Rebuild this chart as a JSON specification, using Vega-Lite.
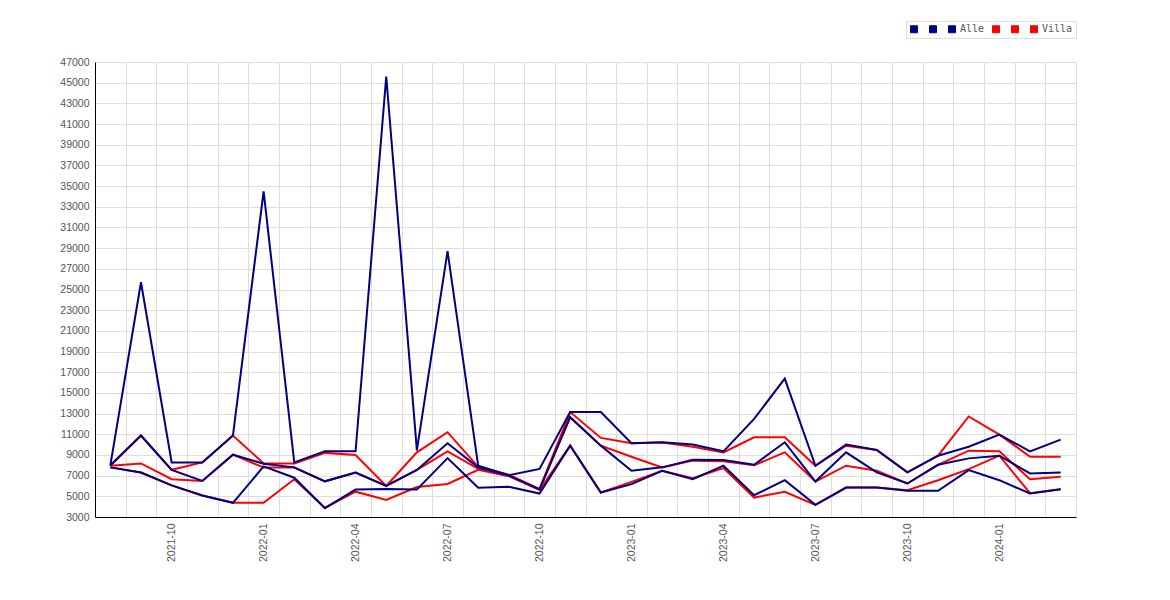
{
  "$schema": "https://vega.github.io/schema/vega-lite/v6.json",
  "width": 981,
  "height": 455,
  "autosize": {"type": "none"},
  "padding": {"left": 95, "top": 62, "right": 94, "bottom": 83},
  "background": "#ffffff",
  "config": {"view": {"stroke": null}},
  "data": {
    "values": [
      {"m": "2021-08", "s": "Alle", "v": 8000}, {"m": "2021-09", "s": "Alle", "v": 25700}, {"m": "2021-10", "s": "Alle", "v": 8280}, {"m": "2021-11", "s": "Alle", "v": 8280},
      {"m": "2021-12", "s": "Alle", "v": 10880}, {"m": "2022-01", "s": "Alle", "v": 34500}, {"m": "2022-02", "s": "Alle", "v": 8280}, {"m": "2022-03", "s": "Alle", "v": 9350},
      {"m": "2022-04", "s": "Alle", "v": 9350}, {"m": "2022-05", "s": "Alle", "v": 45600}, {"m": "2022-06", "s": "Alle", "v": 9450}, {"m": "2022-07", "s": "Alle", "v": 28700},
      {"m": "2022-08", "s": "Alle", "v": 7950}, {"m": "2022-09", "s": "Alle", "v": 7050}, {"m": "2022-10", "s": "Alle", "v": 7650}, {"m": "2022-11", "s": "Alle", "v": 13150},
      {"m": "2022-12", "s": "Alle", "v": 13150}, {"m": "2023-01", "s": "Alle", "v": 10130}, {"m": "2023-02", "s": "Alle", "v": 10230}, {"m": "2023-03", "s": "Alle", "v": 10000},
      {"m": "2023-04", "s": "Alle", "v": 9350}, {"m": "2023-05", "s": "Alle", "v": 12490}, {"m": "2023-06", "s": "Alle", "v": 16380}, {"m": "2023-07", "s": "Alle", "v": 7960},
      {"m": "2023-08", "s": "Alle", "v": 10000}, {"m": "2023-09", "s": "Alle", "v": 9480}, {"m": "2023-10", "s": "Alle", "v": 7310}, {"m": "2023-11", "s": "Alle", "v": 8930},
      {"m": "2023-12", "s": "Alle", "v": 9800}, {"m": "2024-01", "s": "Alle", "v": 10970}, {"m": "2024-02", "s": "Alle", "v": 9350}, {"m": "2024-03", "s": "Alle", "v": 10480},

      {"m": "2021-08", "s": "a1", "v": 8000}, {"m": "2021-09", "s": "a1", "v": 10880}, {"m": "2021-10", "s": "a1", "v": 7560}, {"m": "2021-11", "s": "a1", "v": 6485},
      {"m": "2021-12", "s": "a1", "v": 9025}, {"m": "2022-01", "s": "a1", "v": 8150}, {"m": "2022-02", "s": "a1", "v": 7800}, {"m": "2022-03", "s": "a1", "v": 6450},
      {"m": "2022-04", "s": "a1", "v": 7300}, {"m": "2022-05", "s": "a1", "v": 6000}, {"m": "2022-06", "s": "a1", "v": 7550}, {"m": "2022-07", "s": "a1", "v": 10130},
      {"m": "2022-08", "s": "a1", "v": 7790}, {"m": "2022-09", "s": "a1", "v": 7000}, {"m": "2022-10", "s": "a1", "v": 5700}, {"m": "2022-11", "s": "a1", "v": 12650},
      {"m": "2022-12", "s": "a1", "v": 9900}, {"m": "2023-01", "s": "a1", "v": 7470}, {"m": "2023-02", "s": "a1", "v": 7800}, {"m": "2023-03", "s": "a1", "v": 8540},
      {"m": "2023-04", "s": "a1", "v": 8510}, {"m": "2023-05", "s": "a1", "v": 8050}, {"m": "2023-06", "s": "a1", "v": 10225}, {"m": "2023-07", "s": "a1", "v": 6430},
      {"m": "2023-08", "s": "a1", "v": 9250}, {"m": "2023-09", "s": "a1", "v": 7310}, {"m": "2023-10", "s": "a1", "v": 6240}, {"m": "2023-11", "s": "a1", "v": 8050},
      {"m": "2023-12", "s": "a1", "v": 8670}, {"m": "2024-01", "s": "a1", "v": 8930}, {"m": "2024-02", "s": "a1", "v": 7210}, {"m": "2024-03", "s": "a1", "v": 7310},

      {"m": "2021-08", "s": "a2", "v": 7800}, {"m": "2021-09", "s": "a2", "v": 7300}, {"m": "2021-10", "s": "a2", "v": 6060}, {"m": "2021-11", "s": "a2", "v": 5085},
      {"m": "2021-12", "s": "a2", "v": 4370}, {"m": "2022-01", "s": "a2", "v": 7890}, {"m": "2022-02", "s": "a2", "v": 6800}, {"m": "2022-03", "s": "a2", "v": 3850},
      {"m": "2022-04", "s": "a2", "v": 5650}, {"m": "2022-05", "s": "a2", "v": 5700}, {"m": "2022-06", "s": "a2", "v": 5650}, {"m": "2022-07", "s": "a2", "v": 8700},
      {"m": "2022-08", "s": "a2", "v": 5830}, {"m": "2022-09", "s": "a2", "v": 5920}, {"m": "2022-10", "s": "a2", "v": 5270}, {"m": "2022-11", "s": "a2", "v": 9900},
      {"m": "2022-12", "s": "a2", "v": 5370}, {"m": "2023-01", "s": "a2", "v": 6180}, {"m": "2023-02", "s": "a2", "v": 7470}, {"m": "2023-03", "s": "a2", "v": 6660},
      {"m": "2023-04", "s": "a2", "v": 7960}, {"m": "2023-05", "s": "a2", "v": 5110}, {"m": "2023-06", "s": "a2", "v": 6560}, {"m": "2023-07", "s": "a2", "v": 4170},
      {"m": "2023-08", "s": "a2", "v": 5850}, {"m": "2023-09", "s": "a2", "v": 5850}, {"m": "2023-10", "s": "a2", "v": 5530}, {"m": "2023-11", "s": "a2", "v": 5530},
      {"m": "2023-12", "s": "a2", "v": 7540}, {"m": "2024-01", "s": "a2", "v": 6560}, {"m": "2024-02", "s": "a2", "v": 5270}, {"m": "2024-03", "s": "a2", "v": 5690},

      {"m": "2021-08", "s": "Villa", "v": 7950}, {"m": "2021-09", "s": "Villa", "v": 10880}, {"m": "2021-10", "s": "Villa", "v": 7560}, {"m": "2021-11", "s": "Villa", "v": 8280},
      {"m": "2021-12", "s": "Villa", "v": 10880}, {"m": "2022-01", "s": "Villa", "v": 8180}, {"m": "2022-02", "s": "Villa", "v": 8180}, {"m": "2022-03", "s": "Villa", "v": 9200},
      {"m": "2022-04", "s": "Villa", "v": 9000}, {"m": "2022-05", "s": "Villa", "v": 6000}, {"m": "2022-06", "s": "Villa", "v": 9250}, {"m": "2022-07", "s": "Villa", "v": 11200},
      {"m": "2022-08", "s": "Villa", "v": 7850}, {"m": "2022-09", "s": "Villa", "v": 7100}, {"m": "2022-10", "s": "Villa", "v": 5700}, {"m": "2022-11", "s": "Villa", "v": 13150},
      {"m": "2022-12", "s": "Villa", "v": 10650}, {"m": "2023-01", "s": "Villa", "v": 10130}, {"m": "2023-02", "s": "Villa", "v": 10200}, {"m": "2023-03", "s": "Villa", "v": 9800},
      {"m": "2023-04", "s": "Villa", "v": 9250}, {"m": "2023-05", "s": "Villa", "v": 10710}, {"m": "2023-06", "s": "Villa", "v": 10710}, {"m": "2023-07", "s": "Villa", "v": 7960},
      {"m": "2023-08", "s": "Villa", "v": 9900}, {"m": "2023-09", "s": "Villa", "v": 9480}, {"m": "2023-10", "s": "Villa", "v": 7310}, {"m": "2023-11", "s": "Villa", "v": 8930},
      {"m": "2023-12", "s": "Villa", "v": 12720}, {"m": "2024-01", "s": "Villa", "v": 10970}, {"m": "2024-02", "s": "Villa", "v": 8830}, {"m": "2024-03", "s": "Villa", "v": 8830},

      {"m": "2021-08", "s": "v1", "v": 7950}, {"m": "2021-09", "s": "v1", "v": 8180}, {"m": "2021-10", "s": "v1", "v": 6650}, {"m": "2021-11", "s": "v1", "v": 6485},
      {"m": "2021-12", "s": "v1", "v": 9025}, {"m": "2022-01", "s": "v1", "v": 7790}, {"m": "2022-02", "s": "v1", "v": 7788}, {"m": "2022-03", "s": "v1", "v": 6450},
      {"m": "2022-04", "s": "v1", "v": 7300}, {"m": "2022-05", "s": "v1", "v": 6000}, {"m": "2022-06", "s": "v1", "v": 7550}, {"m": "2022-07", "s": "v1", "v": 9350},
      {"m": "2022-08", "s": "v1", "v": 7650}, {"m": "2022-09", "s": "v1", "v": 7000}, {"m": "2022-10", "s": "v1", "v": 5650}, {"m": "2022-11", "s": "v1", "v": 12650},
      {"m": "2022-12", "s": "v1", "v": 9900}, {"m": "2023-01", "s": "v1", "v": 8830}, {"m": "2023-02", "s": "v1", "v": 7800}, {"m": "2023-03", "s": "v1", "v": 8450},
      {"m": "2023-04", "s": "v1", "v": 8400}, {"m": "2023-05", "s": "v1", "v": 8000}, {"m": "2023-06", "s": "v1", "v": 9250}, {"m": "2023-07", "s": "v1", "v": 6430},
      {"m": "2023-08", "s": "v1", "v": 7960}, {"m": "2023-09", "s": "v1", "v": 7470}, {"m": "2023-10", "s": "v1", "v": 6240}, {"m": "2023-11", "s": "v1", "v": 8050},
      {"m": "2023-12", "s": "v1", "v": 9410}, {"m": "2024-01", "s": "v1", "v": 9350}, {"m": "2024-02", "s": "v1", "v": 6660}, {"m": "2024-03", "s": "v1", "v": 6890},

      {"m": "2021-08", "s": "v2", "v": 7800}, {"m": "2021-09", "s": "v2", "v": 7300}, {"m": "2021-10", "s": "v2", "v": 6060}, {"m": "2021-11", "s": "v2", "v": 5085},
      {"m": "2021-12", "s": "v2", "v": 4370}, {"m": "2022-01", "s": "v2", "v": 4370}, {"m": "2022-02", "s": "v2", "v": 6650}, {"m": "2022-03", "s": "v2", "v": 3900},
      {"m": "2022-04", "s": "v2", "v": 5450}, {"m": "2022-05", "s": "v2", "v": 4650}, {"m": "2022-06", "s": "v2", "v": 5900}, {"m": "2022-07", "s": "v2", "v": 6190},
      {"m": "2022-08", "s": "v2", "v": 7560}, {"m": "2022-09", "s": "v2", "v": 6950}, {"m": "2022-10", "s": "v2", "v": 5600}, {"m": "2022-11", "s": "v2", "v": 9900},
      {"m": "2022-12", "s": "v2", "v": 5370}, {"m": "2023-01", "s": "v2", "v": 6400}, {"m": "2023-02", "s": "v2", "v": 7470}, {"m": "2023-03", "s": "v2", "v": 6760},
      {"m": "2023-04", "s": "v2", "v": 7730}, {"m": "2023-05", "s": "v2", "v": 4880}, {"m": "2023-06", "s": "v2", "v": 5430}, {"m": "2023-07", "s": "v2", "v": 4170},
      {"m": "2023-08", "s": "v2", "v": 5850}, {"m": "2023-09", "s": "v2", "v": 5850}, {"m": "2023-10", "s": "v2", "v": 5590}, {"m": "2023-11", "s": "v2", "v": 6560},
      {"m": "2023-12", "s": "v2", "v": 7630}, {"m": "2024-01", "s": "v2", "v": 8930}, {"m": "2024-02", "s": "v2", "v": 5300}, {"m": "2024-03", "s": "v2", "v": 5690}
    ]
  },
  "encoding": {
    "x": {
      "field": "m",
      "type": "ordinal",
      "scale": {"type": "band", "paddingInner": 0, "paddingOuter": 0},
      "axis": {
        "title": null,
        "tickBand": "extent",
        "ticks": false,
        "grid": true,
        "gridColor": "#dddddd",
        "domainColor": "#000000",
        "labelAngle": -90,
        "labelAlign": "right",
        "labelBaseline": "middle",
        "labelPadding": 6,
        "labelOverlap": false,
        "labelFont": "Liberation Sans",
        "labelFontSize": 10.5,
        "labelColor": "#555555",
        "labelExpr": "test(/-(01|04|07|10)$/, '' + datum.label) ? datum.label : ''"
      }
    },
    "y": {
      "field": "v",
      "type": "quantitative",
      "scale": {"domain": [3000, 47000], "nice": false, "zero": false},
      "axis": {
        "title": null,
        "values": [3000, 5000, 7000, 9000, 11000, 13000, 15000, 17000, 19000, 21000, 23000, 25000, 27000, 29000, 31000, 33000, 35000, 37000, 39000, 41000, 43000, 45000, 47000],
        "format": "d",
        "ticks": false,
        "grid": true,
        "gridColor": "#dddddd",
        "domainColor": "#000000",
        "labelPadding": 6,
        "labelFont": "Liberation Sans",
        "labelFontSize": 10.5,
        "labelColor": "#555555"
      }
    },
    "color": {
      "field": "s",
      "type": "nominal",
      "scale": {
        "domain": ["a1", "a2", "Alle", "v1", "v2", "Villa"],
        "range": ["#000080", "#000080", "#000080", "#ff0000", "#ff0000", "#ff0000"]
      },
      "legend": {
        "title": null,
        "orient": "none",
        "legendX": 811,
        "legendY": -41,
        "direction": "horizontal",
        "symbolType": "square",
        "symbolSize": 49,
        "symbolStrokeWidth": 1,
        "labelFont": "DejaVu Sans Mono",
        "labelFontSize": 10,
        "labelColor": "#555555",
        "labelOffset": 3,
        "columnPadding": 5,
        "padding": 3,
        "strokeColor": "#dddddd",
        "fillColor": "#ffffff",
        "labelExpr": "datum.label == 'Alle' || datum.label == 'Villa' ? datum.label : ' '",
        "encode": {
          "symbols": {
            "update": {
              "fill": {"scale": "color", "field": "value"},
              "stroke": {"value": "#555555"},
              "opacity": {"value": 1}
            }
          }
        }
      }
    }
  },
  "layer": [
    {
      "transform": [{"filter": "indexof(['v1', 'v2', 'Villa'], datum.s) >= 0"}],
      "mark": {"type": "line", "strokeWidth": 2}
    },
    {
      "transform": [{"filter": "indexof(['a1', 'a2', 'Alle'], datum.s) >= 0"}],
      "mark": {"type": "line", "strokeWidth": 2}
    }
  ]
}
